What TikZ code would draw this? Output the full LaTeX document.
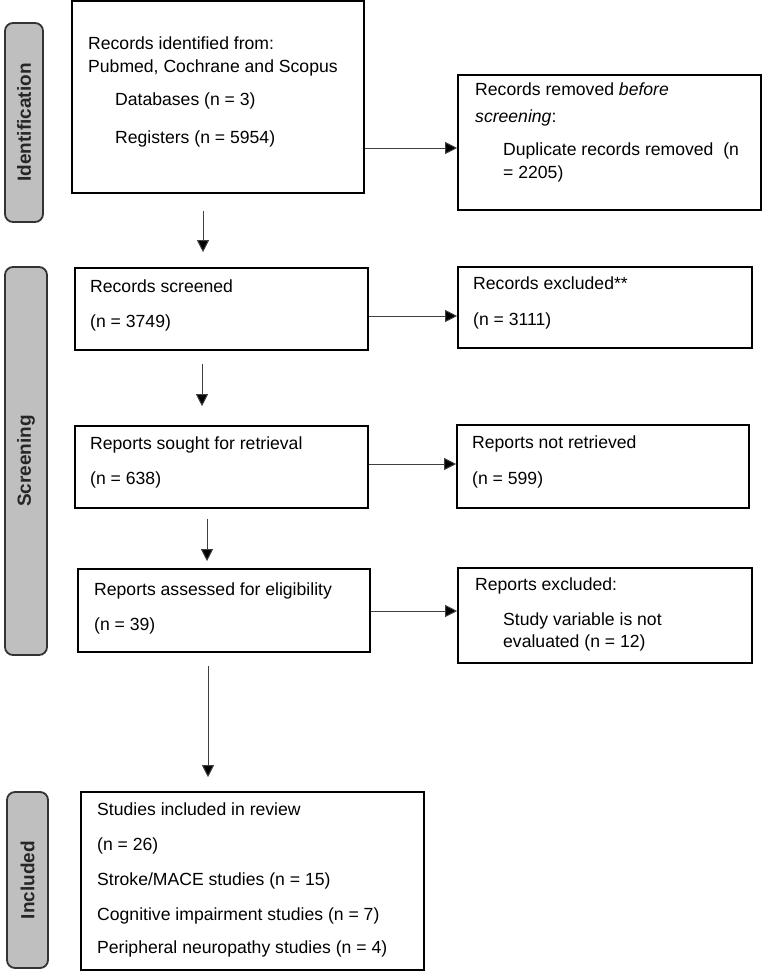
\documentclass[tikz,border=0pt]{standalone}
\usepackage{fontspec}
\setmainfont{Liberation Sans}
\usetikzlibrary{arrows.meta}
\begin{document}
\begin{tikzpicture}[x=1pt,y=-1pt,
  box/.style={draw=black,line width=1.6pt,fill=white,inner sep=0pt},
  phase/.style={draw=black!80,fill=black!25,line width=1.8pt,rounded corners=8pt,inner sep=0pt},
  phasetext/.style={rotate=90,font=\fontsize{19}{22}\selectfont\bfseries,text=black!85,inner sep=0pt},
  txt/.style={anchor=base west,inner sep=0pt,font=\fontsize{17.6}{21}\selectfont},
  arr/.style={draw=black!75,line width=1pt,-{Triangle[width=12pt,length=12pt,fill=black]}}]
\useasboundingbox (0,0) rectangle (762,971);
% phase labels
\node[phase,minimum width=38,minimum height=199] (pid) at (24,122.5) {};
\node[phasetext] (tid) at (pid.center) {Identification};
\node[phase,minimum width=42,minimum height=388] (psc) at (26,461) {};
\node[phasetext] (tsc) at (psc.center) {Screening};
\node[phase,minimum width=41,minimum height=176] (pin) at (27.5,880) {};
\node[phasetext] (tin) at (pin.center) {Included};
% boxes
\node[box,minimum width=292,minimum height=192] (ident) at (218,97) {};
\node[box,minimum width=303,minimum height=135] (rem) at (609.5,142.5) {};
\node[box,minimum width=293,minimum height=82] (scr) at (221.5,309) {};
\node[box,minimum width=294,minimum height=81] (exc) at (605,307.5) {};
\node[box,minimum width=293,minimum height=82] (sought) at (221.5,467) {};
\node[box,minimum width=292,minimum height=83] (notret) at (603,466.5) {};
\node[box,minimum width=292,minimum height=83] (assess) at (224,610.5) {};
\node[box,minimum width=294,minimum height=95] (repexc) at (605,615.5) {};
\node[box,minimum width=343,minimum height=178] (incl) at (252.5,881) {};
% texts
\node[txt] (t1a) at (88,50) {Records identified from:};
\node[txt] (t1b) at (88,73) {Pubmed, Cochrane and Scopus};
\node[txt] (t1c) at (115,106) {Databases (n = 3)};
\node[txt] (t1d) at (115,143) {Registers (n = 5954)};
\node[txt] (t2a) at (475,96) {Records removed \textit{before}};
\node[txt] (t2b) at (475,123) {\textit{screening}:};
\node[txt] (t2c) at (503,155) {Duplicate records removed \ (n};
\node[txt] (t2d) at (503,178) {= 2205)};
\node[txt] (t3a) at (90,292) {Records screened};
\node[txt] (t3b) at (90,327) {(n = 3749)};
\node[txt] (t4a) at (473,289) {Records excluded**};
\node[txt] (t4b) at (473,325) {(n = 3111)};
\node[txt] (t5a) at (90,449) {Reports sought for retrieval};
\node[txt] (t5b) at (90,484) {(n = 638)};
\node[txt] (t6a) at (472,448) {Reports not retrieved};
\node[txt] (t6b) at (472,484) {(n = 599)};
\node[txt] (t7a) at (94,595) {Reports assessed for eligibility};
\node[txt] (t7b) at (94,630) {(n = 39)};
\node[txt] (t8a) at (475,590) {Reports excluded:};
\node[txt] (t8b) at (503,625) {Study variable is not};
\node[txt] (t8c) at (503,647) {evaluated (n = 12)};
\node[txt] (t9a) at (97,815) {Studies included in review};
\node[txt] (t9b) at (97,850) {(n = 26)};
\node[txt] (t9c) at (97,885) {Stroke/MACE studies (n = 15)};
\node[txt] (t9d) at (97,920) {Cognitive impairment studies (n = 7)};
\node[txt] (t9e) at (97,953) {Peripheral neuropathy studies (n = 4)};
% horizontal arrows
\draw[arr] (ident.east |- 0,148) -- (rem.west |- 0,148);
\draw[arr] (scr.east |- 0,316) -- (exc.west |- 0,316);
\draw[arr] (sought.east |- 0,464) -- (notret.west |- 0,464);
\draw[arr] (assess.east |- 0,611) -- (repexc.west |- 0,611);
% vertical arrows
\draw[arr,shorten <=17pt,shorten >=15pt] (ident.south -| 203,0) -- (scr.north -| 203,0);
\draw[arr,shorten <=13pt,shorten >=19pt] (scr.south -| 202,0) -- (sought.north -| 202,0);
\draw[arr,shorten <=10pt,shorten >=7pt] (sought.south -| 207,0) -- (assess.north -| 207,0);
\draw[arr,shorten <=13pt,shorten >=14pt] (assess.south -| 208,0) -- (incl.north -| 208,0);
\end{tikzpicture}
\end{document}
